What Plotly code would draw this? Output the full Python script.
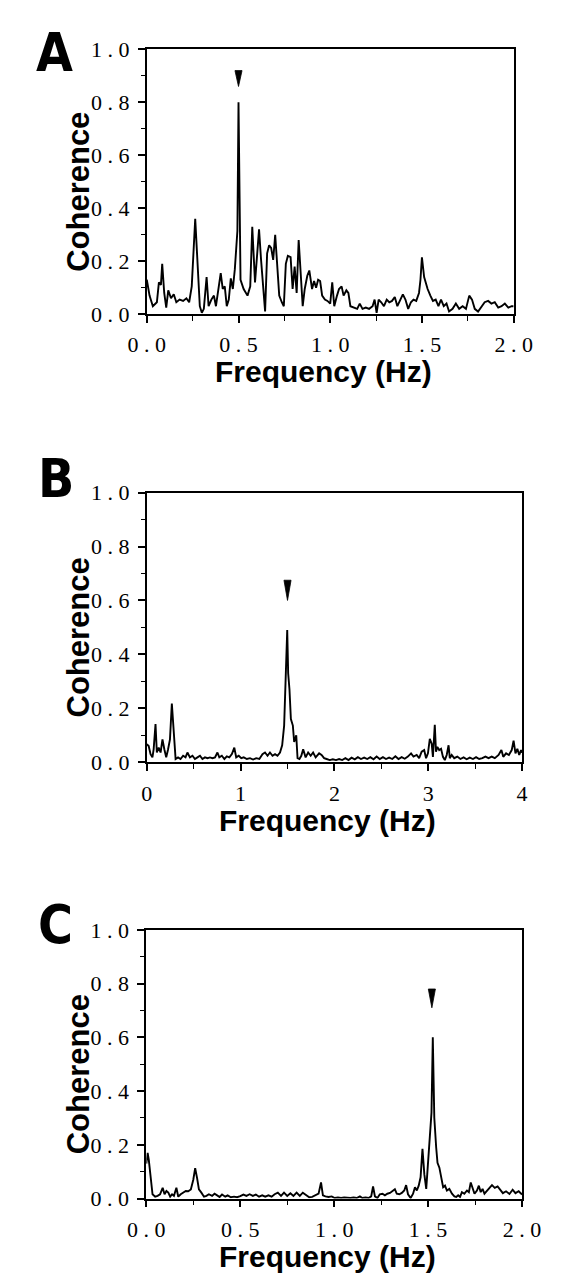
import plotly.graph_objects as go

# ---------------- data ----------------
A_freq = [0.000, 0.015, 0.033, 0.055, 0.066, 0.077, 0.084, 0.095, 0.106, 0.117, 0.132, 0.147, 0.161, 0.179, 0.198,
          0.216, 0.231, 0.245, 0.264, 0.278, 0.289, 0.300, 0.311, 0.326, 0.337, 0.352, 0.366, 0.377, 0.388, 0.403,
          0.414, 0.425, 0.436, 0.447, 0.458, 0.469, 0.480, 0.487, 0.494, 0.500, 0.511, 0.528, 0.549, 0.564, 0.575,
          0.590, 0.601, 0.612, 0.623, 0.634, 0.645, 0.656, 0.667, 0.678, 0.689, 0.700, 0.711, 0.722, 0.736, 0.747,
          0.758, 0.769, 0.784, 0.795, 0.806, 0.817, 0.828, 0.839, 0.850, 0.861, 0.875, 0.886, 0.901, 0.912, 0.923,
          0.934, 0.945, 0.956, 0.971, 0.985, 1.000, 1.011, 1.022, 1.037, 1.048, 1.062, 1.073, 1.088, 1.099, 1.110,
          1.128, 1.147, 1.161, 1.176, 1.194, 1.212, 1.231, 1.242, 1.253, 1.264, 1.278, 1.293, 1.308, 1.322, 1.337,
          1.352, 1.366, 1.381, 1.396, 1.410, 1.425, 1.440, 1.454, 1.469, 1.484, 1.492, 1.500, 1.512, 1.531, 1.546,
          1.560, 1.575, 1.590, 1.604, 1.619, 1.634, 1.648, 1.667, 1.685, 1.703, 1.722, 1.740, 1.758, 1.773, 1.788,
          1.806, 1.824, 1.842, 1.861, 1.879, 1.897, 1.916, 1.934, 1.952, 1.971, 1.989, 2.000]
A_coh = [0.13, 0.07, 0.03, 0.045, 0.12, 0.11, 0.19, 0.08, 0.025, 0.09, 0.06, 0.075, 0.045, 0.055, 0.05,
         0.06, 0.045, 0.105, 0.36, 0.18, 0.03, 0.005, 0.02, 0.14, 0.03, 0.055, 0.07, 0.03, 0.08, 0.155,
         0.095, 0.105, 0.03, 0.055, 0.135, 0.095, 0.17, 0.23, 0.315, 0.80, 0.13, 0.095, 0.07, 0.105, 0.33,
         0.12, 0.22, 0.32, 0.205, 0.095, 0.01, 0.23, 0.26, 0.25, 0.205, 0.30, 0.18, 0.07, 0.045, 0.03,
         0.19, 0.22, 0.215, 0.095, 0.18, 0.08, 0.28, 0.13, 0.03, 0.095, 0.145, 0.165, 0.095, 0.125, 0.10,
         0.13, 0.125, 0.07, 0.055, 0.05, 0.04, 0.12, 0.03, 0.07, 0.095, 0.105, 0.07, 0.09, 0.08, 0.03,
         0.025, 0.02, 0.04, 0.02, 0.025, 0.02, 0.03, 0.055, 0.005, 0.055, 0.045, 0.03, 0.055, 0.045, 0.05,
         0.065, 0.03, 0.055, 0.075, 0.055, 0.02, 0.045, 0.055, 0.05, 0.08, 0.13, 0.215, 0.14, 0.095, 0.07,
         0.05, 0.055, 0.03, 0.055, 0.03, 0.04, 0.01, 0.02, 0.04, 0.02, 0.03, 0.02, 0.07, 0.055, 0.02,
         0.01, 0.03, 0.045, 0.05, 0.04, 0.045, 0.025, 0.03, 0.04, 0.025, 0.03, 0.03]

B_freq = [0.000, 0.020, 0.040, 0.060, 0.073, 0.093, 0.107, 0.127, 0.147, 0.167, 0.187, 0.207, 0.227, 0.247, 0.267,
          0.287, 0.307, 0.333, 0.360, 0.387, 0.413, 0.433, 0.460, 0.487, 0.513, 0.540, 0.567, 0.593, 0.620, 0.647,
          0.673, 0.700, 0.727, 0.753, 0.773, 0.800, 0.827, 0.853, 0.880, 0.907, 0.933, 0.953, 0.980, 1.007, 1.033,
          1.067, 1.100, 1.133, 1.167, 1.200, 1.233, 1.260, 1.287, 1.313, 1.340, 1.367, 1.393, 1.420, 1.443, 1.464,
          1.479, 1.497, 1.507, 1.521, 1.536, 1.557, 1.571, 1.593, 1.607, 1.627, 1.647, 1.667, 1.693, 1.720, 1.747,
          1.773, 1.800, 1.837, 1.863, 1.890, 1.917, 1.950, 1.983, 2.017, 2.050, 2.083, 2.117, 2.150, 2.183, 2.217,
          2.250, 2.283, 2.317, 2.350, 2.383, 2.417, 2.450, 2.483, 2.517, 2.550, 2.583, 2.617, 2.650, 2.683, 2.717,
          2.750, 2.783, 2.817, 2.843, 2.877, 2.903, 2.930, 2.957, 2.977, 2.997, 3.017, 3.037, 3.050, 3.070, 3.083,
          3.097, 3.117, 3.137, 3.157, 3.177, 3.197, 3.217, 3.230, 3.250, 3.277, 3.310, 3.343, 3.377, 3.410, 3.443,
          3.477, 3.510, 3.543, 3.577, 3.610, 3.643, 3.677, 3.710, 3.750, 3.780, 3.800, 3.830, 3.860, 3.890, 3.910,
          3.930, 3.950, 3.970, 3.990, 4.000]
B_coh = [0.067, 0.060, 0.030, 0.018, 0.048, 0.142, 0.036, 0.054, 0.036, 0.085, 0.048, 0.018, 0.048, 0.085, 0.218,
         0.109, 0.012, 0.018, 0.012, 0.024, 0.018, 0.036, 0.018, 0.024, 0.012, 0.018, 0.024, 0.012, 0.018, 0.015,
         0.018, 0.015, 0.018, 0.036, 0.018, 0.024, 0.012, 0.022, 0.018, 0.030, 0.054, 0.018, 0.024, 0.015, 0.018,
         0.012, 0.015, 0.010, 0.015, 0.012, 0.030, 0.036, 0.024, 0.036, 0.024, 0.030, 0.024, 0.036, 0.063, 0.136,
         0.280, 0.490, 0.330, 0.270, 0.160, 0.136, 0.075, 0.100, 0.015, 0.012, 0.024, 0.048, 0.018, 0.036, 0.024,
         0.036, 0.018, 0.033, 0.027, 0.015, 0.012, 0.008, 0.011, 0.008, 0.012, 0.008, 0.015, 0.008, 0.017, 0.011,
         0.019, 0.012, 0.017, 0.012, 0.019, 0.011, 0.021, 0.012, 0.019, 0.012, 0.017, 0.012, 0.022, 0.012, 0.019,
         0.013, 0.021, 0.033, 0.021, 0.027, 0.015, 0.039, 0.045, 0.015, 0.033, 0.087, 0.069, 0.020, 0.139, 0.039,
         0.057, 0.045, 0.050, 0.020, 0.008, 0.027, 0.063, 0.015, 0.027, 0.015, 0.021, 0.012, 0.018, 0.011, 0.017,
         0.012, 0.019, 0.012, 0.015, 0.021, 0.015, 0.021, 0.015, 0.027, 0.045, 0.020, 0.033, 0.027, 0.045, 0.080,
         0.033, 0.050, 0.027, 0.045, 0.035]

C_freq = [0.000, 0.007, 0.013, 0.023, 0.033, 0.047, 0.060, 0.073, 0.087, 0.097, 0.107, 0.117, 0.127, 0.137, 0.147,
          0.160, 0.170, 0.183, 0.197, 0.210, 0.223, 0.237, 0.250, 0.260, 0.270, 0.280, 0.293, 0.307, 0.320, 0.333,
          0.350, 0.363, 0.377, 0.390, 0.403, 0.420, 0.433, 0.450, 0.467, 0.483, 0.500, 0.517, 0.533, 0.550, 0.567,
          0.583, 0.600, 0.617, 0.633, 0.650, 0.667, 0.683, 0.700, 0.717, 0.733, 0.750, 0.767, 0.783, 0.800, 0.817,
          0.833, 0.850, 0.867, 0.883, 0.900, 0.917, 0.930, 0.940, 0.953, 0.970, 0.987, 1.003, 1.020, 1.037, 1.053,
          1.070, 1.087, 1.103, 1.120, 1.137, 1.150, 1.167, 1.183, 1.197, 1.207, 1.217, 1.230, 1.243, 1.257, 1.270,
          1.283, 1.297, 1.310, 1.323, 1.333, 1.347, 1.360, 1.373, 1.383, 1.393, 1.407, 1.420, 1.430, 1.440, 1.450,
          1.460, 1.470, 1.480, 1.490, 1.500, 1.510, 1.518, 1.525, 1.533, 1.543, 1.550, 1.560, 1.570, 1.580, 1.590,
          1.600, 1.613, 1.627, 1.640, 1.650, 1.660, 1.670, 1.680, 1.693, 1.707, 1.717, 1.727, 1.737, 1.747, 1.760,
          1.770, 1.780, 1.790, 1.800, 1.813, 1.827, 1.840, 1.855, 1.870, 1.883, 1.898, 1.915, 1.933, 1.950, 1.965,
          1.982, 2.000]
C_coh = [0.130, 0.170, 0.145, 0.070, 0.016, 0.007, 0.010, 0.016, 0.040, 0.016, 0.028, 0.022, 0.007, 0.016, 0.010,
         0.040, 0.007, 0.016, 0.024, 0.028, 0.027, 0.034, 0.070, 0.113, 0.077, 0.034, 0.022, 0.007, 0.010, 0.016,
         0.010, 0.018, 0.012, 0.006, 0.015, 0.007, 0.012, 0.005, 0.007, 0.005, 0.009, 0.015, 0.010, 0.016, 0.010,
         0.015, 0.007, 0.012, 0.007, 0.012, 0.007, 0.016, 0.022, 0.010, 0.022, 0.010, 0.020, 0.010, 0.022, 0.010,
         0.022, 0.012, 0.005, 0.006, 0.012, 0.018, 0.060, 0.012, 0.008, 0.006, 0.008, 0.002, 0.004, 0.002, 0.004,
         0.002, 0.002, 0.004, 0.002, 0.008, 0.002, 0.004, 0.002, 0.008, 0.045, 0.008, 0.002, 0.016, 0.018, 0.012,
         0.018, 0.021, 0.030, 0.035, 0.018, 0.016, 0.021, 0.030, 0.050, 0.016, 0.002, 0.018, 0.042, 0.030, 0.048,
         0.079, 0.185, 0.090, 0.036, 0.140, 0.220, 0.320, 0.600, 0.300, 0.190, 0.133, 0.115, 0.073, 0.042, 0.048,
         0.030, 0.036, 0.018, 0.008, 0.006, 0.012, 0.006, 0.024, 0.018, 0.030, 0.024, 0.060, 0.042, 0.018, 0.030,
         0.048, 0.024, 0.036, 0.018, 0.030, 0.040, 0.050, 0.040, 0.045, 0.033, 0.020, 0.027, 0.017, 0.033, 0.020,
         0.027, 0.015]

# arrowhead markers above the main peaks: frequency, top value, tip value
arrow_freq = [0.50, 1.50, 1.52]
arrow_top = [0.92, 0.675, 0.78]
arrow_tip = [0.86, 0.60, 0.71]

panel_letters = ["A", "B", "C"]
y_tickvals = [0.0, 0.2, 0.4, 0.6, 0.8, 1.0]
y_ticktext = ["0 . 0", "0 . 2", "0 . 4", "0 . 6", "0 . 8", "1 . 0"]
x_ticks_A = [0.0, 0.5, 1.0, 1.5, 2.0]
x_text_A = ["0 . 0", "0 . 5", "1 . 0", "1 . 5", "2 . 0"]
x_ticks_B = [0, 1, 2, 3, 4]
x_text_B = ["0", "1", "2", "3", "4"]

# ---------------- layout geometry (pixels) ----------------
W, H = 561, 1282
boxes = [  # left, right, top(1.0), bottom(0.0)
    (128.5, 522.0, 30.0, 300.0),
    (128.5, 531.0, 482.0, 757.0),
    (128.0, 531.0, 928.0, 1202.0),
]
xranges = [[0, 2], [0, 4], [0, 2]]


def px(x):
    return x / W


def py(y):
    return 1 - y / H


serif = "Liberation Serif, Times New Roman, serif"
sans = "Liberation Sans, Arial, Helvetica, sans-serif"
narrow = "Liberation Sans Narrow, DejaVu Sans Condensed, Arial Narrow, Liberation Sans, sans-serif"

fig = go.Figure()
series = [(A_freq, A_coh), (B_freq, B_coh), (C_freq, C_coh)]
xtick_sets = [(x_ticks_A, x_text_A, 0.25), (x_ticks_B, x_text_B, 0.5), (x_ticks_A, x_text_A, 0.25)]

annotations = []
for i in range(3):
    sfx = "" if i == 0 else str(i + 1)
    l, r, t, b = boxes[i]
    xr = xranges[i]
    fx, fy = series[i]
    fig.add_trace(go.Scatter(x=fx, y=fy, mode="lines", line=dict(color="black", width=1.9),
                             xaxis="x" + sfx, yaxis="y" + sfx, showlegend=False, hoverinfo="skip"))
    # arrowhead triangle
    hw = 3.8 * (xr[1] - xr[0]) / (r - l)
    af, at, ap = arrow_freq[i], arrow_top[i], arrow_tip[i]
    fig.add_trace(go.Scatter(x=[af - hw, af + hw, af, af - hw], y=[at, at, ap, at], mode="lines",
                             fill="toself", fillcolor="black", line=dict(color="black", width=0.8),
                             xaxis="x" + sfx, yaxis="y" + sfx, showlegend=False, hoverinfo="skip"))
    tv, tt, mdt = xtick_sets[i]
    fig.layout["xaxis" + sfx] = dict(
        domain=[px(l), px(r)], range=xr, anchor="y" + sfx,
        showline=True, linecolor="black", linewidth=1.8, mirror=True,
        ticks="outside", ticklen=7, tickwidth=1.5, tickcolor="black",
        tickvals=tv, ticktext=tt, ticklabelstandoff=3,
        tickfont=dict(family=serif, size=22, color="black"),
        minor=dict(dtick=mdt, tick0=0, ticks="outside", ticklen=5, tickwidth=1.3, tickcolor="black"),
        showgrid=False, zeroline=False, fixedrange=True,
    )
    fig.layout["yaxis" + sfx] = dict(
        domain=[py(b), py(t)], range=[0, 1], anchor="x" + sfx,
        showline=True, linecolor="black", linewidth=1.8, mirror=True,
        ticks="outside", ticklen=7, tickwidth=1.5, tickcolor="black",
        tickvals=y_tickvals, ticktext=y_ticktext, ticklabelstandoff=4,
        tickfont=dict(family=serif, size=22, color="black"),
        minor=dict(dtick=0.1, tick0=0, ticks="outside", ticklen=4, tickwidth=1.3, tickcolor="black"),
        showgrid=False, zeroline=False, fixedrange=True,
    )
    # labels
    annotations.append(dict(text="<b>Coherence</b>", x=px(55), y=py((t + b) / 2 + 10), xref="paper", yref="paper",
                            textangle=-90, showarrow=False, xanchor="center", yanchor="middle",
                            font=dict(family=sans, size=31, color="black")))
    annotations.append(dict(text="<b>Frequency (Hz)</b>", x=px((l + r) / 2 - 7), y=py(b + 59), xref="paper",
                            yref="paper", showarrow=False, xanchor="center", yanchor="middle",
                            font=dict(family=sans, size=30, color="black")))

letter_pos = [(29, 33), (31, 468), (31, 922)]
for i, (lx, ly) in enumerate(letter_pos):
    annotations.append(dict(text="<b>" + panel_letters[i] + "</b>", x=px(lx), y=py(ly), xref="paper", yref="paper",
                            showarrow=False, xanchor="center", yanchor="middle",
                            font=dict(family=narrow, size=53, color="black")))

fig.update_layout(width=W, height=H, margin=dict(l=0, r=0, t=0, b=0),
                  paper_bgcolor="white", plot_bgcolor="white", annotations=annotations)

fig.write_html("out.html")
